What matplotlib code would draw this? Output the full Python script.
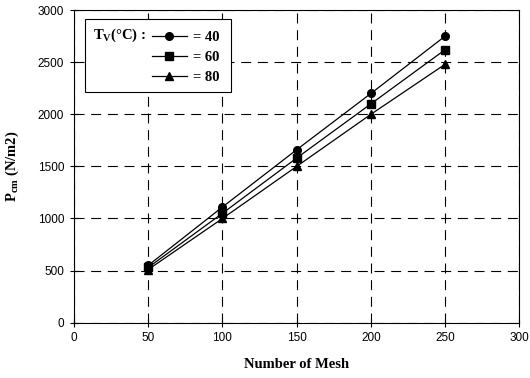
import matplotlib.pyplot as plt
from matplotlib.patches import Rectangle

plt.rcParams['mathtext.fontset'] = 'custom'
plt.rcParams['mathtext.rm'] = 'Liberation Serif:bold'
plt.rcParams['mathtext.it'] = 'Liberation Serif:bold'
plt.rcParams['mathtext.bf'] = 'Liberation Serif:bold'

mesh = [50, 100, 150, 200, 250]
p_40 = [550, 1110, 1660, 2200, 2750]
p_60 = [530, 1050, 1580, 2100, 2620]
p_80 = [510, 1000, 1500, 2000, 2480]
series = [(p_40, 'o', '= 40'), (p_60, 's', '= 60'), (p_80, '^', '= 80')]

xticks = [0, 50, 100, 150, 200, 250, 300]
yticks = [0, 500, 1000, 1500, 2000, 2500, 3000]

fig = plt.figure(figsize=(5.3, 3.78), dpi=100)
ax = fig.add_axes([0.1396, 0.1463, 0.8405, 0.8272])

for vals, mk, lab in series:
    ax.plot(mesh, vals, color='black', lw=0.9, marker=mk, ms=5.5,
            mfc='black', mec='black', label=lab)

ax.set_xlim(0, 300)
ax.set_ylim(0, 3000)
ax.set_xticks(xticks)
ax.set_yticks(yticks)
ax.grid(True, color='black', lw=0.8, linestyle=(0, (9, 6)))
ax.set_axisbelow(True)
ax.tick_params(direction='inout', length=6, width=0.8, labelsize=8.5, pad=4)
for t in ax.get_xticklabels() + ax.get_yticklabels():
    t.set_family('Liberation Sans')
for s in ax.spines.values():
    s.set_linewidth(0.8)

ax.set_xlabel('Number of Mesh', family='Liberation Serif', weight='bold',
              fontsize=10.5, labelpad=10)
ax.set_ylabel(r'P$_{\rm cm}$ (N/m2)', family='Liberation Serif', weight='bold',
              fontsize=10.5, labelpad=12)

# legend box with the label on the left
ax.add_patch(Rectangle((0.0247, 0.739), 0.327, 0.232, transform=ax.transAxes,
                       facecolor='white', edgecolor='black', lw=0.8, zorder=5))
ax.text(0.043, 0.918, r'T$_{\rm V}$(°C) :', transform=ax.transAxes,
        family='Liberation Serif', weight='bold', fontsize=10.5,
        va='center', ha='left', zorder=6)
leg = ax.legend(loc='upper left', bbox_to_anchor=(0.145, 0.975), frameon=False,
                handlelength=2.4, handletextpad=0.4, labelspacing=0.45,
                prop={'family': 'Liberation Serif', 'weight': 'bold', 'size': 10.5})
leg.set_zorder(7)

plt.savefig('out.png', dpi=100)
